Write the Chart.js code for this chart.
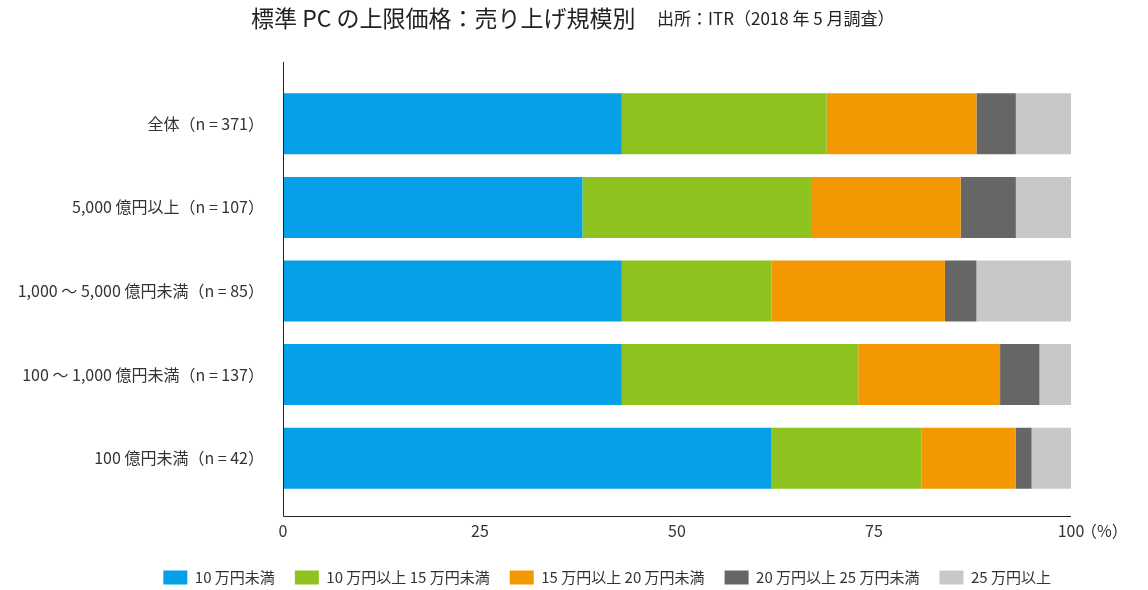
<!DOCTYPE html>
<html>
<head>
<meta charset="utf-8">
<script src="https://cdn.jsdelivr.net/npm/chart.js@4"></script>
<style>
  html, body { margin: 0; padding: 0; background: #fff; }
  #wrap { width: 1148px; height: 590px; }
</style>
</head>
<body>
<div id="wrap"><canvas id="bar" width="1148" height="590"></canvas></div>
<script>
'use strict';

// 区分
var categories = ["全体（n = 371）", "5,000 億円以上（n = 107）", "1,000 ～ 5,000 億円未満（n = 85）", "100 ～ 1,000 億円未満（n = 137）", "100 億円未満（n = 42）"];
// 価格帯
var seriesNames = ["10 万円未満", "10 万円以上 15 万円未満", "15 万円以上 20 万円未満", "20 万円以上 25 万円未満", "25 万円以上"];
var under10 = [43, 38, 43, 43, 62];
var from10to15 = [26, 29, 19, 30, 19];
var from15to20 = [19, 19, 22, 18, 12];
var from20to25 = [5, 7, 4, 5, 2];
var over25 = [7, 7, 12, 4, 5];
var xTicks = [0, 25, 50, 75, 100];

var colors = ["#05a0e8", "#8dc21f", "#f39800", "#666666", "#c8c8c8"];
var FONT = "'Noto Sans CJK JP', 'Noto Sans', sans-serif";

// タイトルと軸線
var decoPlugin = {
    id: 'deco',
    afterDraw: function(chart) {
        var ctx = chart.ctx;
        var a = chart.chartArea;
        ctx.save();
        ctx.fillStyle = '#222';
        ctx.textBaseline = 'middle';
        ctx.textAlign = 'left';
        ctx.font = '23px ' + FONT;
        ctx.fillText('標準 PC の上限価格：売り上げ規模別', 251, 18);
        ctx.font = '17px ' + FONT;
        ctx.fillText('出所：ITR（2018 年 5 月調査）', 657, 19);

        ctx.strokeStyle = '#222';
        ctx.lineWidth = 1;
        ctx.beginPath();
        ctx.moveTo(a.left + 0.5, a.top - 20);
        ctx.lineTo(a.left + 0.5, a.bottom + 16.5);
        ctx.lineTo(a.right, a.bottom + 16.5);
        ctx.stroke();

        ctx.font = '16px ' + FONT;
        ctx.fillStyle = '#333';
        ctx.fillText('（%）', a.right + 10, a.bottom + 31);
        ctx.restore();
    }
};

var ctx = document.getElementById("bar").getContext('2d');
var myChart = new Chart(ctx, {
    type: 'bar',
    data: {
        labels: categories,
        datasets: [under10, from10to15, from15to20, from20to25, over25].map(function(d, i) {
            return {
                label: seriesNames[i],
                data: d,
                backgroundColor: colors[i],
                borderWidth: 0,
                barPercentage: 0.73,
                categoryPercentage: 1
            };
        })
    },
    options: {
        responsive: false,
        animation: false,
        indexAxis: 'y',
        layout: {
            padding: { top: 82, right: 77, left: 0, bottom: -5 }
        },
        scales: {
            x: {
                stacked: true,
                min: 0,
                max: 100,
                afterBuildTicks: function(scale) {
                    scale.ticks = xTicks.map(function(v) { return { value: v }; });
                },
                afterFit: function(scale) { scale.height = 50; },
                grid: { display: false },
                border: { display: false },
                ticks: {
                    padding: 13,
                    color: '#333',
                    font: { size: 16, family: FONT },
                    maxRotation: 0
                }
            },
            y: {
                stacked: true,
                afterFit: function(scale) { scale.width = 283; },
                grid: { display: false },
                border: { display: false },
                ticks: {
                    padding: 11,
                    color: '#333',
                    font: { size: 16, family: FONT }
                }
            }
        },
        plugins: {
            legend: {
                position: 'bottom',
                align: 'end',
                labels: {
                    boxWidth: 24,
                    boxHeight: 14,
                    padding: 20,
                    color: '#333',
                    font: { size: 15, family: FONT }
                }
            },
            tooltip: { enabled: false }
        }
    },
    plugins: [decoPlugin]
});
</script>
</body>
</html>
